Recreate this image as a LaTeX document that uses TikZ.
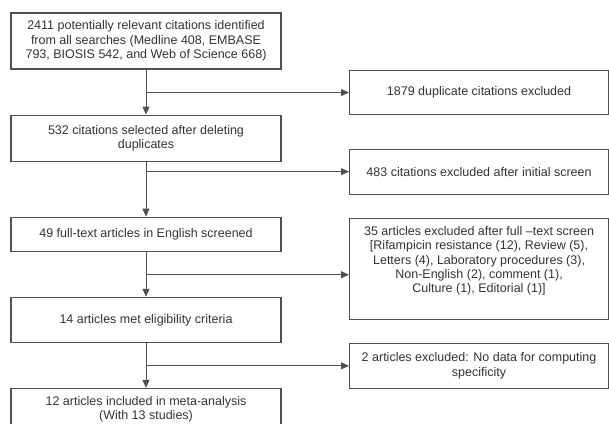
\documentclass[tikz,border=0pt]{standalone}
\usepackage{fontspec}
\setmainfont{Liberation Sans}
\usetikzlibrary{positioning, arrows.meta}
\definecolor{linegray}{HTML}{505050}
\definecolor{textgray}{HTML}{333333}

\begin{document}
\begin{tikzpicture}[
    x = 1pt, y = -1pt,
    > = {Triangle[length = 8pt, width = 7pt]},
    line width = .9pt,
    stagebox/.style = {rectangle, draw = linegray, line width = 1.1pt, text = textgray, align = center,
                       minimum width = 270pt, font = \fontsize{12.5}{14.3}\selectfont},
    exclbox/.style = {stagebox, minimum width = 259pt},
    flow/.style = {->, draw = linegray}
]

\useasboundingbox (0,0) rectangle (609,423);

% Stages
\node[stagebox, minimum height = 56pt]                  (b1) at (146,41)
    {2411 potentially relevant citations identified\\from all searches (Medline 408, EMBASE\\793, BIOSIS 542, and Web of Science 668)};
\node[stagebox, minimum height = 46pt, below = 45pt of b1] (b2)
    {532 citations selected after deleting\\duplicates};
\node[stagebox, minimum height = 34pt, below = 55pt of b2] (b3)
    {49 full-text articles in English screened};
\node[stagebox, minimum height = 45pt, below = 45pt of b3] (b4)
    {14 articles met eligibility criteria};
\node[stagebox, minimum height = 42pt, below = 45pt of b4] (b5)
    {12 articles included in meta-analysis\\(With 13 studies)};

% Junctions on the spine
\coordinate[below = 23pt of b1] (j1);
\coordinate[below = 10pt of b2] (j2);
\coordinate[below = 23pt of b3] (j3);
\coordinate[below = 23pt of b4] (j4);

% Exclusions
\node[exclbox, minimum height = 44pt, right = 203pt of j1]  (r1) {1879 duplicate citations excluded};
\node[exclbox, minimum height = 45pt, right = 203pt of j2]  (r2) {483 citations excluded after initial screen};
\node[exclbox, minimum height = 101pt, right = 203pt of j3, yshift = 5.5pt] (r3)
    {35 articles excluded after full –text screen\\{[}Rifampicin resistance (12), Review (5),\\Letters (4), Laboratory procedures (3),\\Non-English (2), comment (1),\\Culture (1), Editorial (1)]\\[5pt]~};
\node[exclbox, minimum height = 45pt, right = 203pt of j4]  (r4) {2 articles excluded: No data for computing\\specificity};

% Flow
\draw[flow] (b1) -- (b2);
\draw[flow] (b2) -- (b3);
\draw[flow] (b3) -- (b4);
\draw[flow] (b4) -- (b5);

\draw[flow] (j1) -- (r1);
\draw[flow] (j2) -- (r2);
\draw[flow] (j3) -- (j3 -| r3.west);
\draw[flow] (j4) -- (r4);

\end{tikzpicture}
\end{document}
